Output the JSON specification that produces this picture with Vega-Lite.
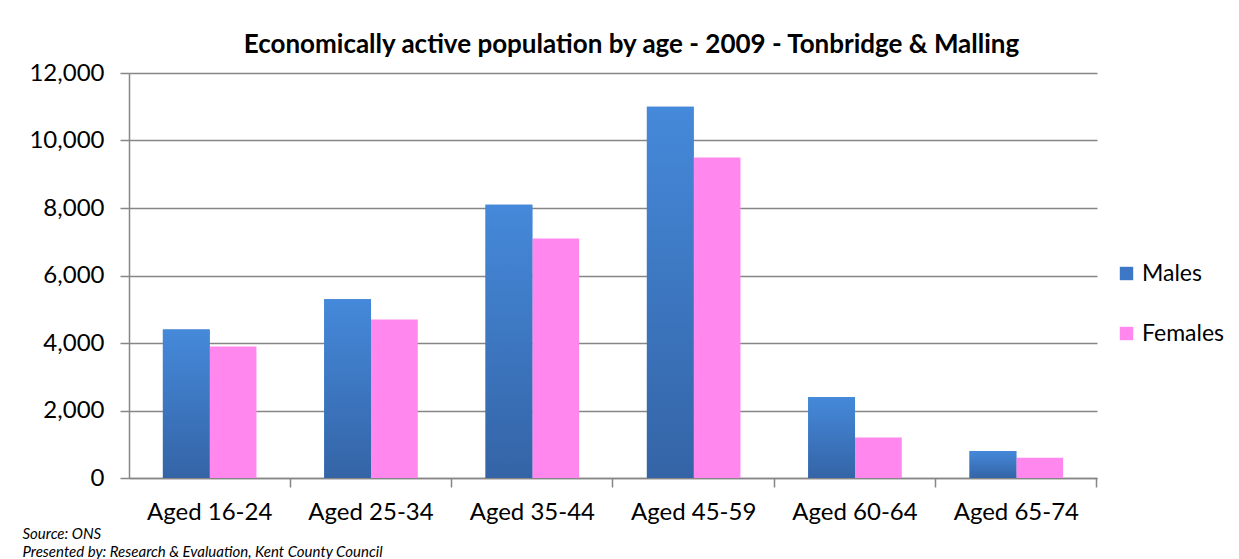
{
  "$schema": "https://vega.github.io/schema/vega-lite/v6.json",
  "width": 968,
  "height": 405,
  "autosize": {"type": "none"},
  "padding": {"left": 129, "top": 73, "right": 142, "bottom": 81},
  "background": "white",
  "config": {"font": "Lato", "view": {"stroke": null}},
  "data": {
    "values": [
      {"age": "Aged 16-24", "sex": "Males", "value": 4400},
      {"age": "Aged 16-24", "sex": "Females", "value": 3900},
      {"age": "Aged 25-34", "sex": "Males", "value": 5300},
      {"age": "Aged 25-34", "sex": "Females", "value": 4700},
      {"age": "Aged 35-44", "sex": "Males", "value": 8100},
      {"age": "Aged 35-44", "sex": "Females", "value": 7100},
      {"age": "Aged 45-59", "sex": "Males", "value": 11000},
      {"age": "Aged 45-59", "sex": "Females", "value": 9500},
      {"age": "Aged 60-64", "sex": "Males", "value": 2400},
      {"age": "Aged 60-64", "sex": "Females", "value": 1200},
      {"age": "Aged 65-74", "sex": "Males", "value": 800},
      {"age": "Aged 65-74", "sex": "Females", "value": 600}
    ]
  },
  "resolve": {"axis": {"x": "independent"}},
  "layer": [
    {
      "mark": {"type": "bar", "opacity": 0},
      "encoding": {
        "x": {
          "field": "age", "type": "nominal", "sort": null,
          "scale": {"paddingInner": 0.42, "paddingOuter": 0.21},
          "axis": {
            "orient": "bottom",
            "labels": false, "domain": false, "ticks": true,
            "tickColor": "#868686", "tickWidth": 1.5, "tickSize": 9,
            "bandPosition": 1.362,
            "title": ["Source: ONS", "Presented by: Research & Evaluation, Kent County Council"],
            "titleFont": "Lato", "titleFontSize": 15, "titleFontStyle": "italic", "titleFontWeight": "normal",
            "titleColor": "#000000", "titleAnchor": "start", "titleAlign": "left",
            "titleX": -107, "titlePadding": 39, "titleLineHeight": 18, "titleBaseline": "top"
          }
        },
        "y": {
          "field": "value", "type": "quantitative",
          "scale": {"domain": [0, 12000]},
          "axis": {
            "title": null, "values": [0, 2000, 4000, 6000, 8000, 10000, 12000], "format": ",.0f",
            "grid": true, "gridColor": "#868686", "gridWidth": 1.5,
            "domainColor": "#868686", "domainWidth": 1.5,
            "tickColor": "#868686", "tickWidth": 1.5, "tickSize": 9,
            "labelFont": "Lato", "labelFontSize": 24, "labelColor": "#000000", "labelPadding": 16
          }
        }
      }
    },
    {
      "mark": {"type": "bar"},
      "encoding": {
        "x": {
          "field": "age", "type": "nominal", "sort": null,
          "scale": {"paddingInner": 0.42, "paddingOuter": 0.21},
          "axis": {
            "orient": "bottom",
            "title": null, "ticks": false, "labelAngle": 0,
            "labelFont": "Lato", "labelFontSize": 24, "labelColor": "#000000", "labelPadding": 22,
            "domainColor": "#868686", "domainWidth": 1.5
          }
        },
        "xOffset": {"field": "sex", "type": "nominal", "sort": ["Males", "Females"], "scale": {"paddingInner": 0, "paddingOuter": 0}},
        "y": {
          "field": "value", "type": "quantitative",
          "scale": {"domain": [0, 12000]},
          "axis": {
            "title": null, "values": [0, 2000, 4000, 6000, 8000, 10000, 12000], "format": ",.0f",
            "grid": true, "gridColor": "#868686", "gridWidth": 1.5,
            "domainColor": "#868686", "domainWidth": 1.5,
            "tickColor": "#868686", "tickWidth": 1.5, "tickSize": 9,
            "labelFont": "Lato", "labelFontSize": 24, "labelColor": "#000000", "labelPadding": 16
          }
        },
        "color": {
          "field": "sex", "type": "nominal", "sort": ["Males", "Females"],
          "scale": {"domain": ["Males", "Females"], "range": ["#3d78c6", "#ff87ee"]},
          "legend": {
            "title": null, "orient": "none", "legendX": 986, "legendY": 189,
            "symbolType": "square", "symbolSize": 180, "symbolStrokeWidth": 0,
            "labelFont": "Lato", "labelFontSize": 23, "labelColor": "#000000", "labelOffset": 4,
            "rowPadding": 36
          }
        }
      }
    },
    {
      "transform": [{"filter": "datum.sex === 'Males'"}],
      "mark": {
        "type": "bar",
        "color": {"gradient": "linear", "x1": 0, "y1": 0, "x2": 0, "y2": 1, "stops": [{"offset": 0, "color": "#4589da"}, {"offset": 1, "color": "#3464a6"}]}
      },
      "encoding": {
        "x": {
          "field": "age", "type": "nominal", "sort": null,
          "axis": {
            "orient": "top", "labels": false, "ticks": false, "domain": false, "grid": false,
            "title": "Economically active population by age - 2009 - Tonbridge & Malling",
            "titleFont": "Lato", "titleFontSize": 26, "titleFontWeight": "bold", "titleColor": "#000000",
            "titleX": 502, "titleAlign": "center", "titleAnchor": "middle", "titlePadding": 16
          }
        },
        "xOffset": {"field": "sex", "type": "nominal", "sort": ["Males", "Females"]},
        "y": {
          "field": "value", "type": "quantitative",
          "scale": {"domain": [0, 12000]},
          "axis": {
            "title": null, "values": [0, 2000, 4000, 6000, 8000, 10000, 12000], "format": ",.0f",
            "grid": true, "gridColor": "#868686", "gridWidth": 1.5,
            "domainColor": "#868686", "domainWidth": 1.5,
            "tickColor": "#868686", "tickWidth": 1.5, "tickSize": 9,
            "labelFont": "Lato", "labelFontSize": 24, "labelColor": "#000000", "labelPadding": 16
          }
        }
      }
    }
  ]
}
